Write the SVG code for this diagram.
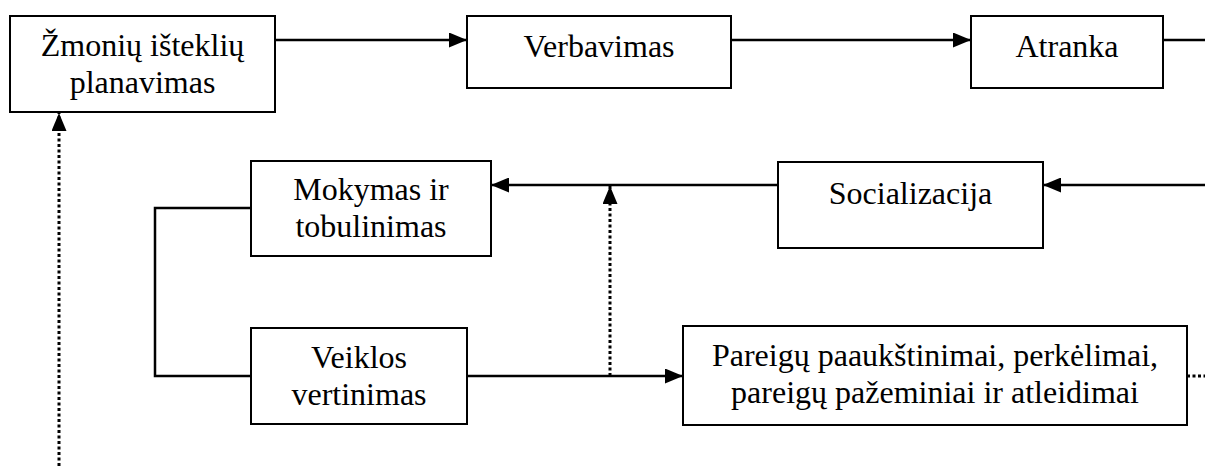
<svg xmlns="http://www.w3.org/2000/svg" width="1205" height="471" viewBox="0 0 1205 471">
<style>
.box{fill:#fff;stroke:#000;stroke-width:2}
.t{font-family:'Liberation Serif','Tinos','DejaVu Serif',serif;font-size:32px;fill:#000;text-anchor:middle}
.c{fill:none;stroke:#000;stroke-width:2.5}
.d{fill:none;stroke:#000;stroke-width:3;stroke-dasharray:3 2.5}
</style>
<defs>
<marker id="ah" viewBox="0 0 18 15" refX="18" refY="7.5" markerWidth="18" markerHeight="15" markerUnits="userSpaceOnUse" orient="auto">
<path d="M0,0 L18,7.5 L0,15 Z" fill="#000"/>
</marker>
</defs>
<g id="connectors">
<line class="c" x1="275" y1="40" x2="467" y2="40" marker-end="url(#ah)"/>
<line class="c" x1="731" y1="40" x2="971" y2="40" marker-end="url(#ah)"/>
<line class="c" x1="1163" y1="40" x2="1205" y2="40"/>
<line class="c" x1="1205" y1="185" x2="1043" y2="185" marker-end="url(#ah)"/>
<line class="c" x1="778" y1="185" x2="491" y2="185" marker-end="url(#ah)"/>
<polyline class="c" points="251,208 155,208 155,376 251,376"/>
<line class="c" x1="467" y1="376" x2="683" y2="376" marker-end="url(#ah)"/>
<line class="d" x1="610" y1="376" x2="610" y2="186" marker-end="url(#ah)"/>
<line class="d" x1="1187" y1="376" x2="1205" y2="376"/>
<line class="d" x1="59" y1="466" x2="59" y2="113" marker-end="url(#ah)"/>
</g>
<g id="planavimas">
<rect class="box" x="10" y="16" width="265" height="96"/>
<text class="t" x="142.5" y="56">Žmonių išteklių</text>
<text class="t" x="142.5" y="93">planavimas</text>
</g>
<g id="verbavimas">
<rect class="box" x="467" y="16" width="264" height="72"/>
<text class="t" x="599" y="57">Verbavimas</text>
</g>
<g id="atranka">
<rect class="box" x="971" y="16" width="192" height="72"/>
<text class="t" x="1067" y="57">Atranka</text>
</g>
<g id="mokymas">
<rect class="box" x="251" y="161" width="240" height="95"/>
<text class="t" x="371" y="200">Mokymas ir</text>
<text class="t" x="371" y="237">tobulinimas</text>
</g>
<g id="socializacija">
<rect class="box" x="778" y="162" width="265" height="86"/>
<text class="t" x="910.5" y="204">Socializacija</text>
</g>
<g id="veiklos">
<rect class="box" x="251" y="328" width="216" height="96"/>
<text class="t" x="359" y="368">Veiklos</text>
<text class="t" x="359" y="405">vertinimas</text>
</g>
<g id="pareigos">
<rect class="box" x="683" y="326" width="504" height="99"/>
<text class="t" x="935" y="366">Pareigų paaukštinimai, perkėlimai,</text>
<text class="t" x="935" y="403">pareigų pažeminiai ir atleidimai</text>
</g>
</svg>
